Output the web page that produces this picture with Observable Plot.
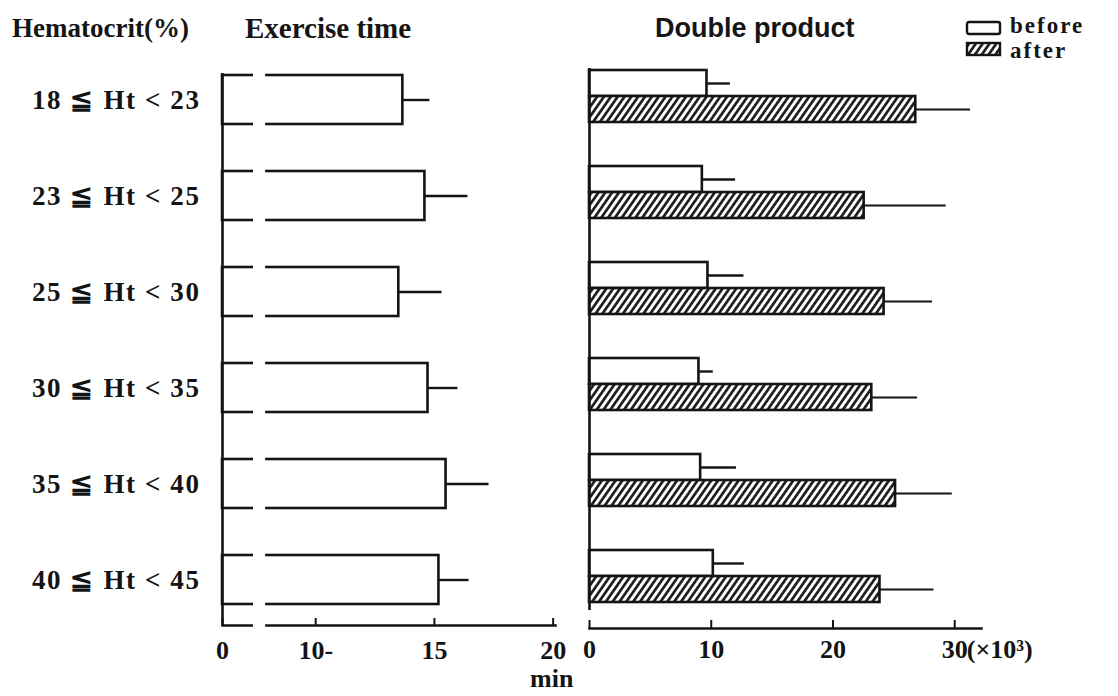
<!DOCTYPE html>
<html><head><meta charset="utf-8">
<script src="https://cdn.jsdelivr.net/npm/d3@7"></script>
<script src="https://cdn.jsdelivr.net/npm/@observablehq/plot@0.6"></script>
<style>
body{margin:0;background:#fff;}
#wrap{position:relative;width:1118px;height:696px;overflow:hidden;background:#fff;}
#wrap svg.plotsvg{position:absolute;left:0;top:0;}
#wrap svg.plotsvg g[aria-label="y-axis tick label"] text{letter-spacing:1.6px;}
.t{position:absolute;font-family:"Liberation Serif",serif;font-weight:bold;color:#151515;white-space:nowrap;line-height:1;}
</style></head><body><div id="wrap"></div>
<script>
// ---- data ----
const groups = ["18 ≦ Ht < 23", "23 ≦ Ht < 25", "25 ≦ Ht < 30", "30 ≦ Ht < 35", "35 ≦ Ht < 40", "40 ≦ Ht < 45"];
const exerciseMean = [13.67, 14.60, 13.50, 14.73, 15.49, 15.19];   // min
const exerciseSD   = [1.14, 1.81, 1.82, 1.26, 1.81, 1.27];
const dpBeforeMean = [9.65, 9.27, 9.73, 8.99, 9.13, 10.17];        // x10^3
const dpBeforeSD   = [1.92, 2.73, 2.96, 1.18, 2.94, 2.55];
const dpAfterMean  = [26.8, 22.56, 24.2, 23.19, 25.14, 23.86];
const dpAfterSD    = [4.5, 6.74, 3.98, 3.76, 4.66, 4.44];
const seriesNames = ["before", "after"];
const exerciseTicks = [0, 10, 15, 20];
const exerciseTickLabels = ["0", "10-", "15", "20"];
const dpTicks = [0, 10, 20, 30];
const dpTickLabels = ["0", "10", "20", "30"];
const axisBreak = [7.38, 7.89];   // broken-axis gap on the exercise-time scale
const titles = {group: "Hematocrit(%)", exercise: "Exercise time", dp: "Double product", exUnit: "min", dpUnit: "(×10³)"};

const ink = "#141414";
const wrap = document.getElementById("wrap");

const exData = groups.map((g, i) => ({group: g, mean: exerciseMean[i], sd: exerciseSD[i]}));
const beforeData = groups.map((g, i) => ({group: g, series: seriesNames[0], mean: dpBeforeMean[i], sd: dpBeforeSD[i]}));
const afterData = groups.map((g, i) => ({group: g, series: seriesNames[1], mean: dpAfterMean[i], sd: dpAfterSD[i]}));

const svgStyle = {background: "transparent", overflow: "visible", fontFamily: "Liberation Serif, serif", fontWeight: "bold", fontSize: "26px", color: ink};

// ---- left panel: exercise time ----
const left = Plot.plot({
  width: 1118, height: 696,
  marginLeft: 222, marginRight: 1118 - 555, marginTop: 73, marginBottom: 696 - 625,
  style: svgStyle,
  x: {type: "linear", domain: [0, axisBreak[0], 20.1], range: [222, 253, 555], label: null},
  y: {type: "band", domain: groups, range: [49.7, 629.3], paddingInner: 0.49, paddingOuter: 0.245, label: null},
  marks: [
    Plot.barX(exData, {x: "mean", y: "group", fill: "white", stroke: ink, strokeWidth: 2.6}),
    Plot.frame({anchor: "bottom", stroke: ink, strokeWidth: 2.6}),
    Plot.rect([axisBreak], {x1: d => d[0], x2: d => d[1], fill: "white", insetTop: -3, insetBottom: -4}),
    Plot.ruleX([0], {stroke: ink, strokeWidth: 2.6}),
    Plot.ruleY(exData, {y: "group", x1: "mean", x2: d => d.mean + d.sd, stroke: ink, strokeWidth: 2.4}),
    Plot.axisX(exerciseTicks, {tickSize: -7, tickPadding: 22, strokeWidth: 2, tickFormat: d => exerciseTickLabels[exerciseTicks.indexOf(d)], fontSize: 26, label: null}),
    Plot.axisY({tickSize: 0, tickPadding: 22, fontSize: 27, label: null})
  ]
});
left.classList.add("plotsvg");
wrap.appendChild(left);

// ---- right panel: double product ----
const hatchDefs = () => {
  const defs = d3.create("svg:defs");
  const p = defs.append("pattern").attr("id", "hatch").attr("patternUnits", "userSpaceOnUse")
    .attr("width", 5.6).attr("height", 5.6).attr("patternTransform", "rotate(35)");
  p.append("rect").attr("width", 5.6).attr("height", 5.6).attr("fill", "white");
  p.append("line").attr("x1", 1.4).attr("y1", 0).attr("x2", 1.4).attr("y2", 5.6).attr("stroke", ink).attr("stroke-width", 2.6);
  return defs.node();
};

const right = Plot.plot({
  width: 1118, height: 696,
  marginLeft: 589, marginRight: 1118 - 981, marginTop: 68, marginBottom: 696 - 628,
  style: svgStyle,
  x: {type: "linear", domain: [0, 32.2], range: [589, 981], label: null},
  y: {type: "band", domain: groups, range: [45.5, 627.2], paddingInner: 0.46, paddingOuter: 0.23, label: null, axis: null},
  marks: [
    hatchDefs,
    Plot.barX(beforeData, {x: "mean", y: "group", insetBottom: 26, fill: "white", stroke: ink, strokeWidth: 2.6}),
    Plot.barX(afterData, {x: "mean", y: "group", insetTop: 26, fill: "url(#hatch)", stroke: ink, strokeWidth: 2.6}),
    Plot.ruleY(beforeData, {y: "group", dy: -13, x1: "mean", x2: d => d.mean + d.sd, stroke: ink, strokeWidth: 2.4}),
    Plot.ruleY(afterData, {y: "group", dy: 13, x1: "mean", x2: d => d.mean + d.sd, stroke: ink, strokeWidth: 2.2}),
    Plot.ruleX([0], {stroke: ink, strokeWidth: 2.6, insetBottom: 18}),
    Plot.frame({anchor: "bottom", stroke: ink, strokeWidth: 2.6}),
    Plot.axisX(dpTicks, {tickSize: -8, tickPadding: 19, strokeWidth: 2, tickFormat: d => dpTickLabels[dpTicks.indexOf(d)], fontSize: 26, label: null}),
    Plot.text([titles.dpUnit], {x: () => dpTicks[dpTicks.length - 1], frameAnchor: "bottom", lineAnchor: "top", textAnchor: "start", dx: 12, dy: 11, fontSize: 26, fill: ink})
  ]
});
right.classList.add("plotsvg");
wrap.appendChild(right);

// ---- titles, unit, legend ----
function addText(txt, x, y, size, extra) {
  const d = document.createElement("div");
  d.className = "t";
  d.textContent = txt;
  d.style.left = x + "px";
  d.style.top = y + "px";
  d.style.fontSize = size + "px";
  if (extra) Object.assign(d.style, extra);
  wrap.appendChild(d);
  return d;
}
addText(titles.group, 12, 15, 27);
addText(titles.exercise, 245, 14, 29);
addText(titles.dp, 655, 15, 27, {fontFamily: "Liberation Sans, sans-serif"});
addText(titles.exUnit, 530, 666, 26);

// legend
const lg = d3.create("svg").attr("width", 40).attr("height", 42)
  .style("position", "absolute").style("left", "964px").style("top", "19px");
lg.append("rect").attr("x", 3).attr("y", 3).attr("width", 33).attr("height", 12).attr("rx", 2)
  .attr("fill", "white").attr("stroke", ink).attr("stroke-width", 2.4);
lg.append("rect").attr("x", 3).attr("y", 24).attr("width", 33).attr("height", 12)
  .attr("fill", "url(#hatch)").attr("stroke", ink).attr("stroke-width", 2.4);
wrap.appendChild(lg.node());
addText(seriesNames[0], 1010, 15, 23, {letterSpacing: "2px", lineHeight: "21px", height: "21px"});
addText(seriesNames[1], 1010, 40, 23, {letterSpacing: "2px", lineHeight: "21px", height: "21px"});
</script></body></html>
